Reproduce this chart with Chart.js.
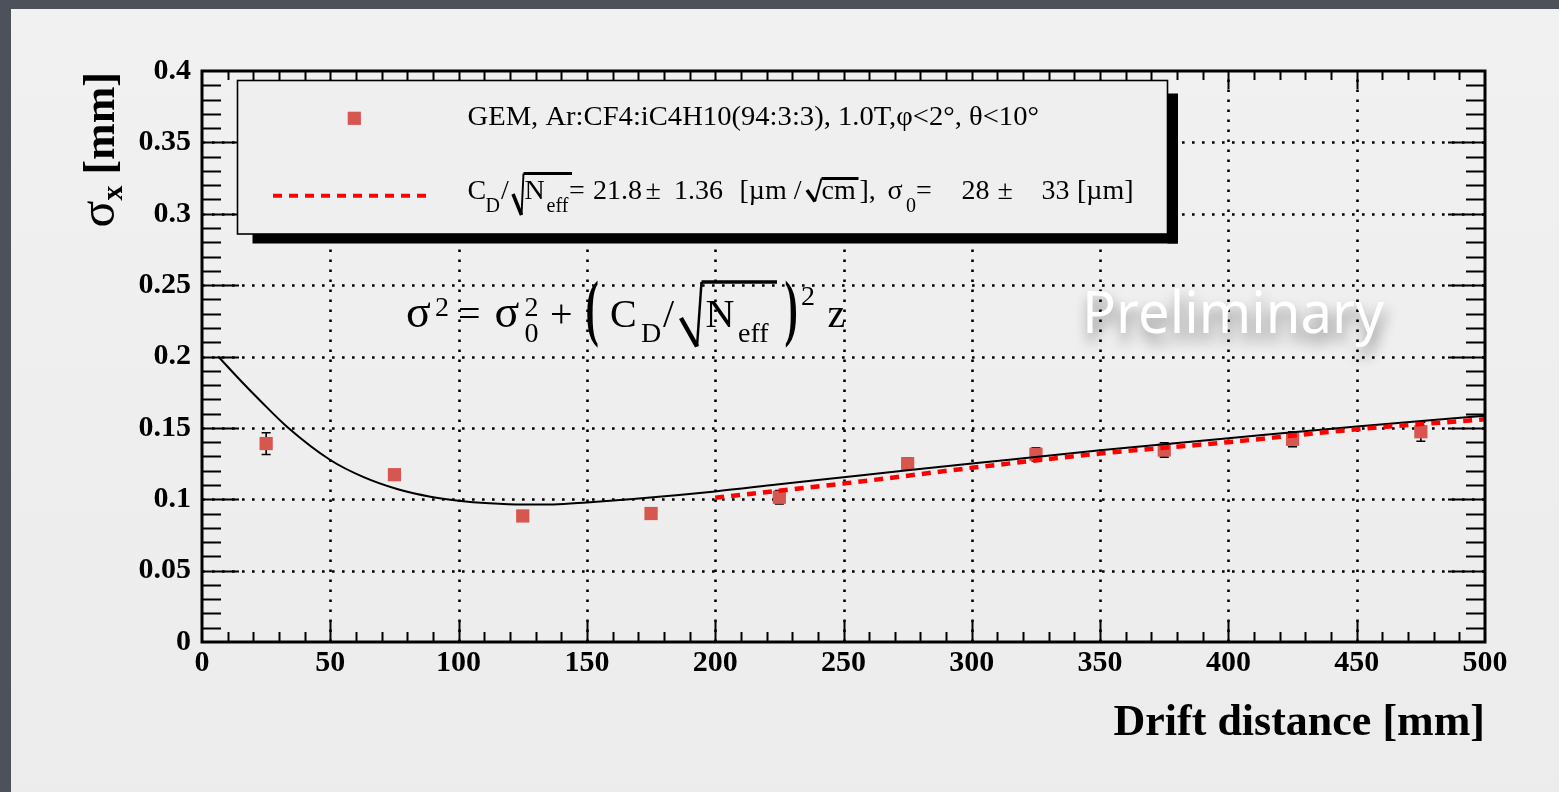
<!DOCTYPE html>
<html>
<head>
<meta charset="utf-8">
<title>Drift distance resolution</title>
<script src="https://cdn.jsdelivr.net/npm/chart.js@4.4.1/dist/chart.umd.min.js"></script>
<style>
  html, body { margin: 0; padding: 0; background: #4d5159; overflow: hidden; }
  canvas { display: block; }
</style>
</head>
<body>
<canvas id="chart" width="1559" height="792"></canvas>
<script>
// Measured points: drift distance (mm), spatial resolution sigma_x (mm) and its error
const driftDistance = [25, 75, 125, 175, 225, 275, 325, 375, 425, 475];
const sigmaX        = [0.1390, 0.1172, 0.0883, 0.0900, 0.1014, 0.1249, 0.1315, 0.1345, 0.1420, 0.1473];
const sigmaXErr     = [0.0076, 0.0030, 0.0030, 0.0030, 0.0047, 0.0040, 0.0046, 0.0050, 0.0052, 0.0067];

// Full fit curve (solid black)
const fullFitZ     = [6.3, 15, 23, 33, 50, 63, 76, 89, 100, 112, 125, 137, 150, 168, 200, 224, 250, 275, 300, 350, 400, 450, 500];
const fullFitSigma = [0.2000, 0.1832, 0.1685, 0.1510, 0.1275, 0.1155, 0.1072, 0.1018, 0.0990, 0.0972, 0.0963, 0.0964, 0.0978, 0.1002, 0.1055, 0.1103, 0.1154, 0.1203, 0.1250, 0.1343, 0.1427, 0.1510, 0.1585];

// Diffusion fit over the long-drift range (red dashed)
const diffFitZ     = [200, 250, 300, 350, 400, 450, 500];
const diffFitSigma = [0.101, 0.111, 0.122, 0.132, 0.140, 0.149, 0.156];

// Axis tick labels
const xTickLabels = ['0', '50', '100', '150', '200', '250', '300', '350', '400', '450', '500'];
const yTickLabels = ['0', '0.05', '0.1', '0.15', '0.2', '0.25', '0.3', '0.35', '0.4'];

const xTitle = 'Drift distance [mm]';
const legendDataLabel = 'GEM, Ar:CF4:iC4H10(94:3:3), 1.0T,\u03C6<2\u00B0, \u03B8<10\u00B0';
const watermark = 'Preliminary';

const SERIF = "'Liberation Serif', 'Times New Roman', serif";
const MARKER = '#d85650';
const PANEL = '#efefef';
const font = (size, bold) => (bold ? 'bold ' : '') + size + 'px ' + SERIF;

function text(ctx, t, x, y, size, bold) {
  ctx.font = font(size, bold);
  ctx.fillText(t, x, y);
  return x + ctx.measureText(t).width;
}

// Radical sign: short thick down-stroke, thin rise, overline
function radical(ctx, x0, yMid, xBottom, yBottom, xTop, yTop, xEnd, thick) {
  ctx.save();
  ctx.strokeStyle = '#000';
  ctx.lineCap = 'butt';
  ctx.lineJoin = 'miter';
  ctx.lineWidth = thick;
  ctx.beginPath();
  ctx.moveTo(x0, yMid);
  ctx.lineTo(xBottom, yBottom);
  ctx.stroke();
  ctx.lineWidth = Math.max(1.6, thick * 0.55);
  ctx.beginPath();
  ctx.moveTo(xBottom, yBottom);
  ctx.lineTo(xTop, yTop);
  ctx.stroke();
  ctx.lineWidth = Math.max(2, thick * 0.8);
  ctx.beginPath();
  ctx.moveTo(xTop, yTop);
  ctx.lineTo(xEnd, yTop);
  ctx.stroke();
  ctx.restore();
}

function bigParen(ctx, ch, x, top, bottom) {
  const size = 40;
  const asc = 0.694 * size, desc = 0.215 * size;
  const s = (bottom - top) / (asc + desc);
  ctx.save();
  ctx.translate(x, top + asc * s);
  ctx.scale(1, s);
  ctx.font = font(size, true);
  ctx.fillText(ch, 0, 0);
  ctx.restore();
}

const decor = {
  id: 'decor',
  beforeDraw(chart) {
    const ctx = chart.ctx;
    ctx.save();
    ctx.fillStyle = '#4d5159';
    ctx.fillRect(0, 0, chart.width, chart.height);
    const g = ctx.createLinearGradient(0, 9, 0, chart.height);
    g.addColorStop(0, '#f1f1f1');
    g.addColorStop(1, '#ececec');
    ctx.fillStyle = g;
    ctx.fillRect(11, 9, chart.width - 11, chart.height - 9);
    ctx.restore();
  },
  beforeDatasetsDraw(chart) {
    const ctx = chart.ctx, xs = chart.scales.x, ys = chart.scales.y, a = chart.chartArea;
    ctx.save();
    // dotted grid at the major ticks
    ctx.strokeStyle = '#000';
    ctx.lineWidth = 2.6;
    ctx.setLineDash([2.6, 7.4]);
    for (let i = 1; i < xTickLabels.length - 1; i++) {
      const x = Math.round(xs.getPixelForValue(+xTickLabels[i])) + 0.5;
      ctx.beginPath(); ctx.moveTo(x, a.bottom); ctx.lineTo(x, a.top); ctx.stroke();
    }
    for (let i = 1; i < yTickLabels.length - 1; i++) {
      const y = Math.round(ys.getPixelForValue(+yTickLabels[i])) + 0.5;
      ctx.beginPath(); ctx.moveTo(a.left, y); ctx.lineTo(a.right, y); ctx.stroke();
    }
    ctx.setLineDash([]);
    // vertical error bars
    ctx.lineWidth = 1.6;
    for (let i = 0; i < driftDistance.length; i++) {
      const x = xs.getPixelForValue(driftDistance[i]);
      const y1 = ys.getPixelForValue(sigmaX[i] - sigmaXErr[i]);
      const y2 = ys.getPixelForValue(sigmaX[i] + sigmaXErr[i]);
      ctx.beginPath();
      ctx.moveTo(x, y1); ctx.lineTo(x, y2);
      ctx.moveTo(x - 4.5, y1); ctx.lineTo(x + 4.5, y1);
      ctx.moveTo(x - 4.5, y2); ctx.lineTo(x + 4.5, y2);
      ctx.stroke();
    }
    ctx.restore();
  },
  afterDatasetsDraw(chart) {
    const ctx = chart.ctx, xs = chart.scales.x, ys = chart.scales.y, a = chart.chartArea;
    ctx.save();
    ctx.strokeStyle = '#000';
    ctx.fillStyle = '#000';

    // tick marks pointing inward on all four sides
    ctx.lineWidth = 2;
    ctx.beginPath();
    for (let i = 1; i < 50; i++) {
      const x = Math.round(xs.getPixelForValue(i * 10)) + 0.5;
      const major = i % 5 === 0;
      ctx.moveTo(x, a.bottom); ctx.lineTo(x, a.bottom - (major ? 21 : 10));
      ctx.moveTo(x, a.top); ctx.lineTo(x, a.top + (major ? 18 : 9));
    }
    for (let i = 1; i < 40; i++) {
      const y = Math.round(ys.getPixelForValue(i / 100)) + 0.5;
      const major = i % 5 === 0;
      ctx.moveTo(a.left, y); ctx.lineTo(a.left + (major ? 37 : 19), y);
      ctx.moveTo(a.right, y); ctx.lineTo(a.right - (major ? 37 : 19), y);
    }
    ctx.stroke();

    // frame
    ctx.lineWidth = 3;
    ctx.strokeRect(a.left, a.top, a.right - a.left, a.bottom - a.top);

    // legend box with shadow
    const L = { x: 237.5, y: 80.5, w: 930, h: 153.5 };
    ctx.fillStyle = '#000';
    ctx.fillRect(L.x + 15, L.y + L.h, L.w - 5, 9.5);
    ctx.fillRect(L.x + L.w, L.y + 13, 10.5, L.h - 3.5);
    ctx.fillStyle = PANEL;
    ctx.fillRect(L.x, L.y, L.w, L.h);
    ctx.lineWidth = 1.6;
    ctx.strokeRect(L.x, L.y, L.w, L.h);

    // legend entry 1: marker + text
    ctx.fillStyle = MARKER;
    ctx.fillRect(354.3 - 6.6, 118.3 - 6.6, 13.2, 13.2);
    ctx.fillStyle = '#000';
    ctx.textBaseline = 'alphabetic';
    ctx.textAlign = 'left';
    ctx.save();
    ctx.translate(467.5, 125);
    ctx.scale(1.06, 1);
    text(ctx, legendDataLabel, 0, 0, 27, false);
    ctx.restore();

    // legend entry 2: dashed red line + fit result
    ctx.save();
    ctx.strokeStyle = '#ff0000';
    ctx.lineWidth = 4;
    ctx.setLineDash([9, 7]);
    ctx.beginPath(); ctx.moveTo(273, 195.7); ctx.lineTo(432, 195.7); ctx.stroke();
    ctx.restore();

    const b2 = 198.5, s2 = 212, M = 28, S = 20;
    text(ctx, 'C', 467.5, b2, M);
    text(ctx, 'D', 485.5, s2, S);
    text(ctx, '/', 501, b2, M);
    radical(ctx, 513, 194, 521.5, 215, 523.5, 173.5, 572, 3.5);
    text(ctx, 'N', 524.5, b2, M);
    text(ctx, 'eff', 546.5, s2, S);
    text(ctx, '=', 569, b2, M);
    text(ctx, '21.8', 593, b2, M);
    text(ctx, '\u00B1', 645.5, b2, M);
    text(ctx, '1.36', 674, b2, M);
    text(ctx, '[\u00B5m /', 739.5, b2, M);
    radical(ctx, 807, 190, 815, 201.5, 821.5, 178.5, 858.5, 3.5);
    text(ctx, 'cm', 821.5, b2, M);
    text(ctx, '],', 859.5, b2, M);
    text(ctx, '\u03C3', 887.5, b2, M);
    text(ctx, '0', 906, s2, S);
    text(ctx, '=', 916, b2, M);
    text(ctx, '28', 961.5, b2, M);
    text(ctx, '\u00B1', 997.5, b2, M);
    text(ctx, '33', 1041.5, b2, M);
    text(ctx, '[\u00B5m]', 1077, b2, M);

    // resolution formula
    const fb = 327, F = 40, FS = 28, supB = 316, subB = 342;
    text(ctx, '\u03C3', 406, fb, 46);
    text(ctx, '2', 435, supB, FS);
    text(ctx, '=', 458, fb, F);
    text(ctx, '\u03C3', 494.5, fb, 46);
    text(ctx, '2', 524.5, supB, FS);
    text(ctx, '0', 524.5, subB, FS);
    text(ctx, '+', 550, fb, F);
    bigParen(ctx, '(', 585.5, 280, 348);
    text(ctx, 'C', 610, fb, F);
    text(ctx, 'D', 641, subB, FS);
    text(ctx, '/', 663, fb, F);
    radical(ctx, 681, 318, 697, 346.5, 701.5, 282, 777, 4.5);
    text(ctx, 'N', 705.5, fb, F);
    text(ctx, 'eff', 738, subB, FS);
    bigParen(ctx, ')', 784.5, 280, 348);
    text(ctx, '2', 801, 305, FS);
    text(ctx, 'z', 827.5, fb, F);

    // watermark
    ctx.save();
    ctx.font = '58px "Noto Sans", "DejaVu Sans", sans-serif';
    ctx.shadowColor = 'rgba(0,0,0,0.45)';
    ctx.shadowBlur = 14;
    ctx.shadowOffsetX = 2;
    ctx.shadowOffsetY = 9;
    ctx.fillStyle = '#ffffff';
    ctx.fillText(watermark, 1082, 333, 302);
    ctx.restore();

    // x axis title, right aligned to the frame
    ctx.textAlign = 'right';
    text(ctx, xTitle, a.right, 735, 44, true);
    ctx.textAlign = 'left';

    // y axis title, rotated, ending at the top of the frame
    ctx.save();
    ctx.translate(114, a.top + 1);
    ctx.rotate(-Math.PI / 2);
    ctx.font = font(50, false); const wS = ctx.measureText('\u03C3').width;
    ctx.font = font(30, true);  const wX = ctx.measureText('x').width;
    ctx.font = font(44, true);  const wM = ctx.measureText(' [mm]').width;
    let tx = -(wS + wX + wM);
    tx = text(ctx, '\u03C3', tx, 0, 50, false);
    tx = text(ctx, 'x', tx, 8, 30, true);
    text(ctx, ' [mm]', tx, 0, 44, true);
    ctx.restore();

    ctx.restore();
  }
};

const ctx = document.getElementById('chart').getContext('2d');
new Chart(ctx, {
  type: 'scatter',
  data: {
    datasets: [
      {
        label: 'data',
        type: 'scatter',
        data: driftDistance.map((z, i) => ({ x: z, y: sigmaX[i] })),
        pointStyle: 'rect',
        pointRadius: 9.35,
        pointBackgroundColor: MARKER,
        pointBorderWidth: 0,
        showLine: false,
        order: 3
      },
      {
        label: 'full fit',
        type: 'line',
        data: fullFitZ.map((z, i) => ({ x: z, y: fullFitSigma[i] })),
        borderColor: '#000000',
        borderWidth: 2,
        pointRadius: 0,
        cubicInterpolationMode: 'monotone',
        fill: false,
        order: 2
      },
      {
        label: 'diffusion fit',
        type: 'line',
        data: diffFitZ.map((z, i) => ({ x: z, y: diffFitSigma[i] })),
        borderColor: '#ff0000',
        borderWidth: 4.5,
        borderDash: [9, 7],
        pointRadius: 0,
        cubicInterpolationMode: 'monotone',
        fill: false,
        order: 1
      }
    ]
  },
  options: {
    responsive: false,
    animation: false,
    events: [],
    layout: { padding: { left: 0, top: 71, right: 74, bottom: 0 } },
    plugins: { legend: { display: false }, tooltip: { enabled: false } },
    scales: {
      x: {
        type: 'linear', min: 0, max: 500,
        grid: { display: false, drawTicks: false },
        border: { display: false },
        ticks: {
          stepSize: 50, autoSkip: false, maxRotation: 0, padding: 3,
          color: '#000', font: { family: SERIF, size: 30, weight: 'bold' },
          callback: (v, i) => xTickLabels[i]
        },
        afterFit(scale) { scale.height = 150; }
      },
      y: {
        type: 'linear', min: 0, max: 0.4,
        grid: { display: false, drawTicks: false },
        border: { display: false },
        ticks: {
          stepSize: 0.05, autoSkip: false, padding: 11,
          color: '#000', font: { family: SERIF, size: 30, weight: 'bold' },
          callback: (v, i) => yTickLabels[i]
        },
        afterFit(scale) { scale.width = 202; }
      }
    }
  },
  plugins: [decor]
});
</script>
</body>
</html>
